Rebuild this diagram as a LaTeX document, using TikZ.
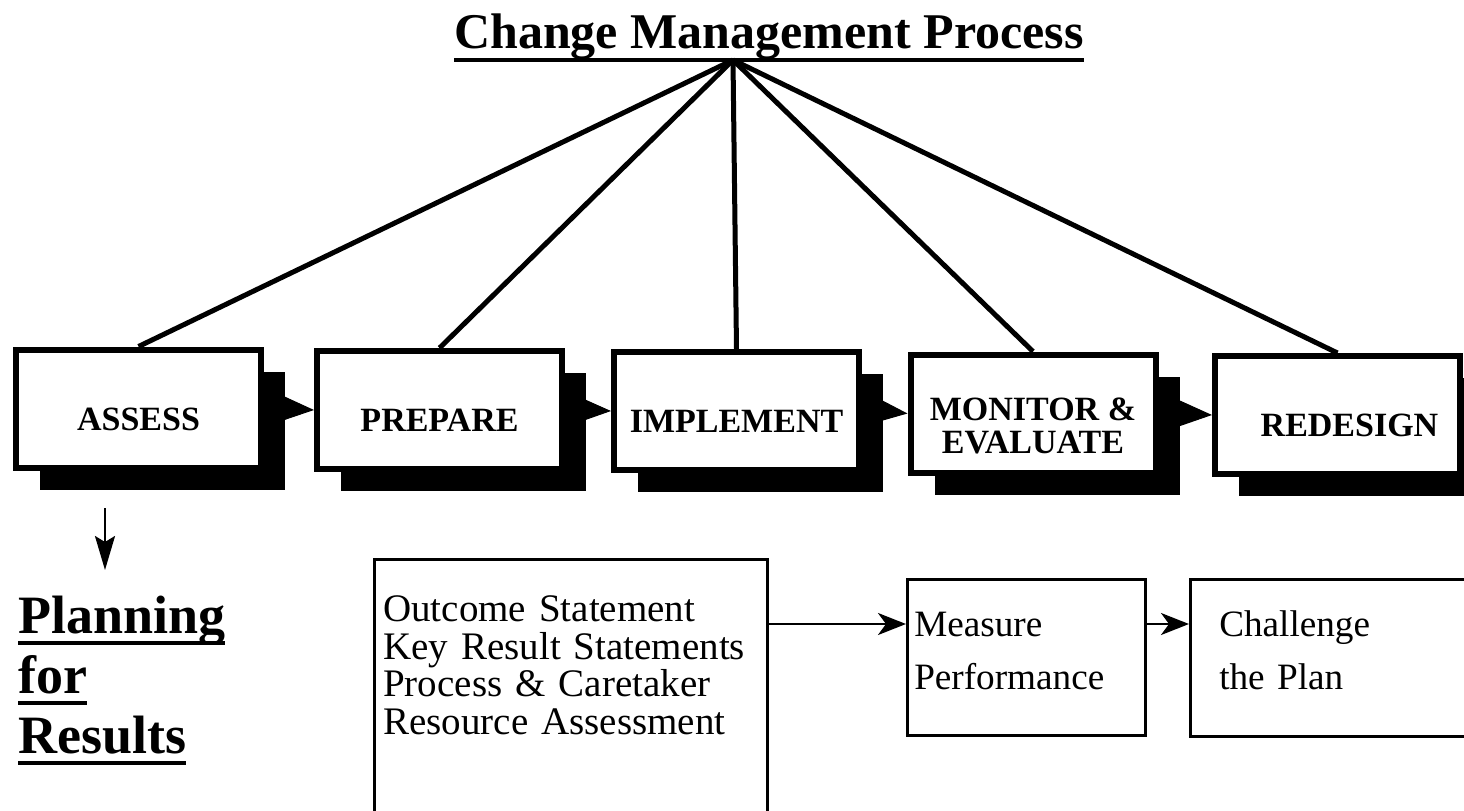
\documentclass[tikz,border=0pt]{standalone}
\usepackage{fontspec}
\setmainfont{Liberation Serif}
\usetikzlibrary{arrows.meta,shadows}
\newcommand{\underscored}[2][-6pt]{\setbox0=\hbox{#2}\rlap{\rule[#1]{\wd0}{2pt}}\box0}

\begin{document}
\begin{tikzpicture}[x=0.5pt,y=-0.5pt]
        \clip (0,0) rectangle (1464,810);
        \node [anchor=base,font=\fontsize{25}{30}\selectfont\bfseries] (T) at (769,48) {\underscored[-6.75pt]{Change Management Process}};
        \coordinate (apex) at (733,60);

        \begin{scope}[every node/.style={rectangle,draw,line width=3pt,fill=white,
                    minimum width=122.5pt,minimum height=59pt,align=center,
                    text height=21.5pt,text depth=0pt,
                    font=\fontsize{17}{16.5}\selectfont\bfseries,
                    drop shadow={shadow xshift=12pt,shadow yshift=-11pt,fill=black,opacity=1}}]
            \node (A) at (138.5,408.5) {ASSESS};
            \node (P) at (439.5,410) {PREPARE};
            \node (I) at (736.5,411) {IMPLEMENT};
            \node [text height=40pt] (M) at (1033,413.5) {MONITOR \&\\EVALUATE};
            \node (R) at (1337.5,415) {\hspace*{12pt}REDESIGN};
        \end{scope}

        \begin{scope}[every edge/.style={draw=black,line width=2.5pt}]
            \path [-] (apex) edge (A.north);
            \path [-] (apex) edge (P.north);
            \path [-] (apex) edge (I.north);
            \path [-] (apex) edge (M.north);
            \path [-] (apex) edge (R.north);
        \end{scope}

        \begin{scope}[>={Triangle[length=16.5pt,width=13pt]},
                    every edge/.style={draw=black,line width=0.5pt}]
            \path [->] ([xshift=10.5pt]A.east) edge (P.west);
            \path [->] ([xshift=10.5pt]P.east) edge (I.west);
            \path [->] ([xshift=10.5pt]I.east) edge (M.west);
            \path [->] ([xshift=10.5pt]M.east) edge (R.west);
        \end{scope}

        \coordinate (d1) at (105,508);
        \coordinate (d2) at (105,570);
        \node [anchor=base west,inner sep=0pt,align=left,font=\fontsize{27}{30}\selectfont\bfseries] (PR) at (18,753)
            {\underscored{Planning}\\\underscored{for}\\\underscored{Results}};

        \begin{scope}[every node/.style={draw,line width=1.25pt,anchor=north west,align=left,inner ysep=0pt}]
            \node [text width=187.5pt,inner xsep=4.5pt,text height=31pt,text depth=160pt,
                   font=\fontsize{19.5}{18.9}\selectfont] (O) at (373,558)
                {Outcome Statement\\Key Result Statements\\Process \& Caretaker\\Resource Assessment};
            \node [text width=112pt,inner xsep=3.5pt,text height=28.5pt,text depth=49.5pt,
                   font=\fontsize{18.6}{26.5}\selectfont] (MP) at (906,578) {Measure\\Performance};
            \node [text width=150pt,inner xsep=14.5pt,text height=28.5pt,text depth=50pt,
                   font=\fontsize{18.6}{26.5}\selectfont] (CP) at (1189,578) {Challenge\\the Plan};
        \end{scope}
        \coordinate (row) at (0,624);

        \begin{scope}[>={Stealth[length=14pt,width=11pt,inset=4pt]},
                    every edge/.style={draw=black,line width=1.25pt}]
            \path [->] (O.east |- row) edge (MP.west |- row);
            \path [->] (MP.east |- row) edge (CP.west |- row);
            \path [-{Stealth[length=17pt,width=10pt,inset=3pt]}] (d1) edge (d2);
        \end{scope}
    \end{tikzpicture}
\end{document}
